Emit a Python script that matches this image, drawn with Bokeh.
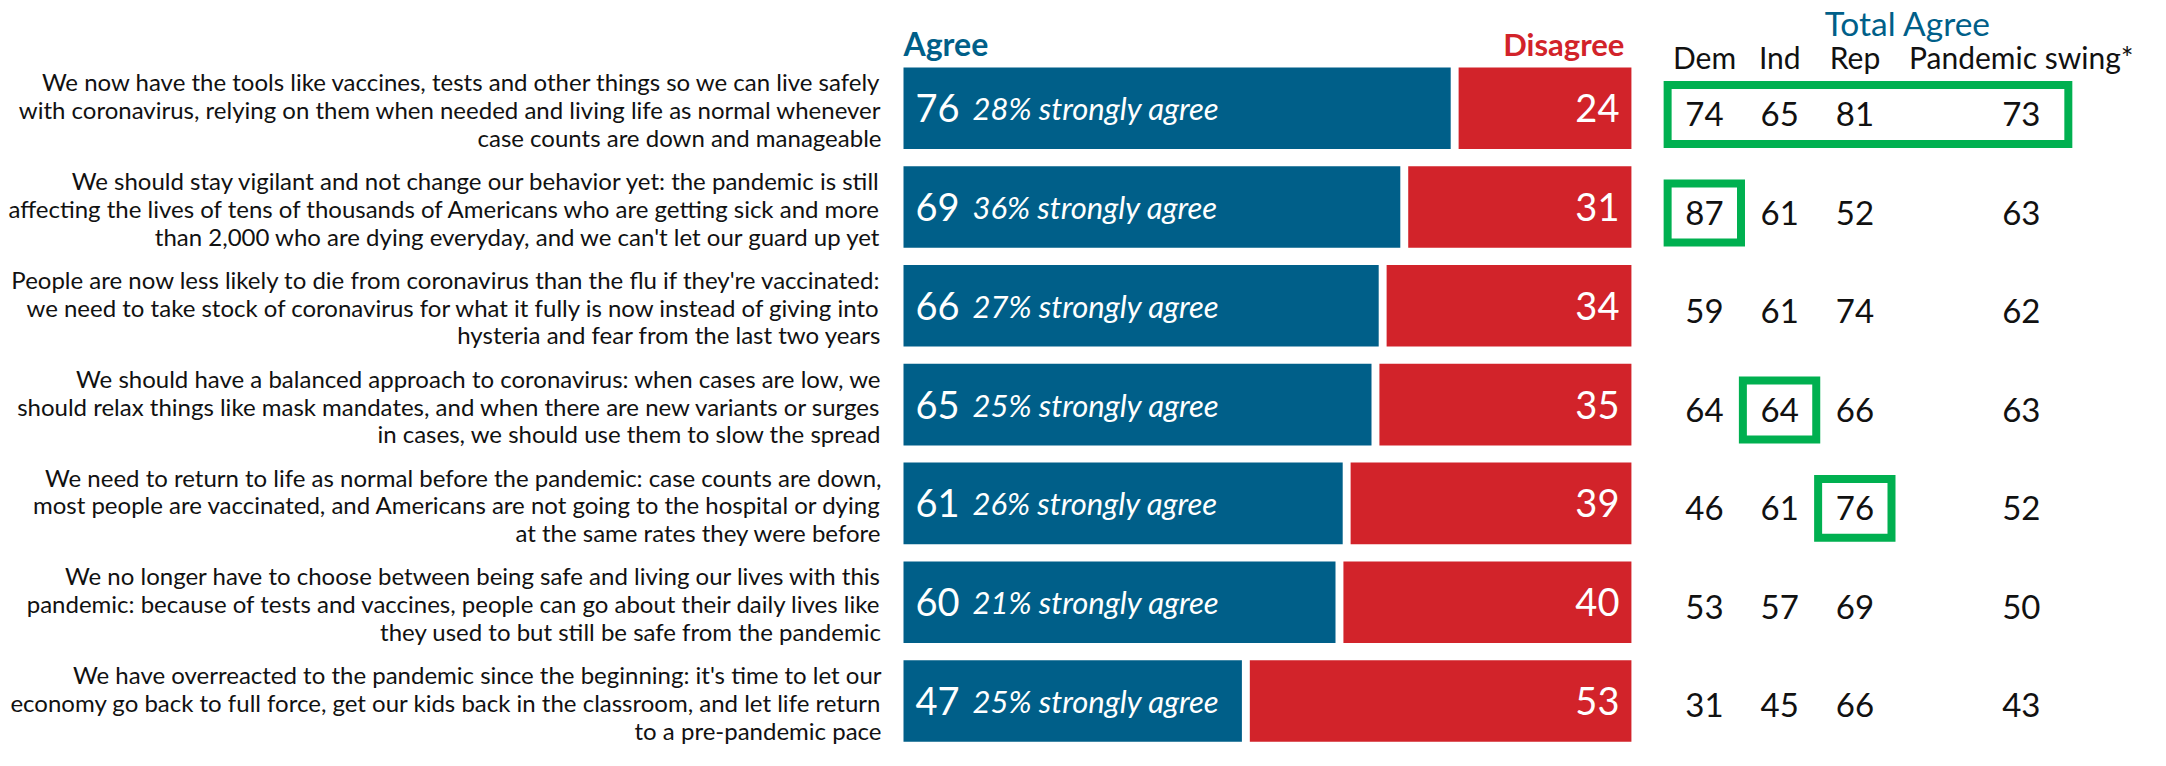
from bokeh.plotting import figure
from bokeh.models import Range1d, ColumnDataSource, Label
from bokeh.layouts import row
from bokeh.embed import file_html
from bokeh.resources import INLINE
from bokeh.core.properties import value

# ---------------- data ----------------
statements = [
    "We now have the tools like vaccines, tests and other things so we can live safely\n"
    "with coronavirus, relying on them when needed and living life as normal whenever\n"
    "case counts are down and manageable",
    "We should stay vigilant and not change our behavior yet: the pandemic is still\n"
    "affecting the lives of tens of thousands of Americans who are getting sick and more\n"
    "than 2,000 who are dying everyday, and we can't let our guard up yet",
    "People are now less likely to die from coronavirus than the flu if they're vaccinated:\n"
    "we need to take stock of coronavirus for what it fully is now instead of giving into\n"
    "hysteria and fear from the last two years",
    "We should have a balanced approach to coronavirus: when cases are low, we\n"
    "should relax things like mask mandates, and when there are new variants or surges\n"
    "in cases, we should use them to slow the spread",
    "We need to return to life as normal before the pandemic: case counts are down,\n"
    "most people are vaccinated, and Americans are not going to the hospital or dying\n"
    "at the same rates they were before",
    "We no longer have to choose between being safe and living our lives with this\n"
    "pandemic: because of tests and vaccines, people can go about their daily lives like\n"
    "they used to but still be safe from the pandemic",
    "We have overreacted to the pandemic since the beginning: it's time to let our\n"
    "economy go back to full force, get our kids back in the classroom, and let life return\n"
    "to a pre-pandemic pace",
]
agree = [76, 69, 66, 65, 61, 60, 47]
disagree = [24, 31, 34, 35, 39, 40, 53]
strongly_agree = [28, 36, 27, 25, 26, 21, 25]

columns = ["Dem", "Ind", "Rep", "Pandemic swing*"]
column_groups = ["party", "party", "party", "swing"]
dem = [74, 87, 59, 64, 46, 53, 31]
ind = [65, 61, 61, 64, 61, 57, 45]
rep = [81, 52, 74, 66, 76, 69, 66]
swing = [73, 63, 62, 63, 52, 50, 43]

# highlighted cells: row, first column, last column
highlight_rows = [0, 1, 3, 4]
highlight_first = ["Dem", "Dem", "Ind", "Rep"]
highlight_last = ["Pandemic swing*", "Dem", "Ind", "Rep"]

# ---------------- style ----------------
BLUE = "#005F89"
RED = "#D2232A"
GREEN = "#00B050"
FONT = "Lato"
INK = "#111111"

rows_idx = list(range(len(statements)))

# ---------------- figure A : statements + bars ----------------
PX = 7.2      # pixels per percentage point
GAP = 1.1     # gap between agree / disagree bars (percentage units)
pA = figure(width=1637, height=750,
            x_range=Range1d(-903 / PX, 734 / PX),
            y_range=Range1d(6.5010, -1.0901),
            output_backend="svg", toolbar_location=None,
            x_axis_location=None, y_axis_location=None,
            min_border=0, outline_line_color=None)
pA.xgrid.grid_line_color = None
pA.ygrid.grid_line_color = None

src = ColumnDataSource(dict(
    y=rows_idx,
    agree=agree,
    dis_left=[a + GAP for a in agree],
    dis_right=[a + d + GAP for a, d in zip(agree, disagree)],
    agree_txt=[str(a) for a in agree],
    dis_txt=[str(d) for d in disagree],
    strong_txt=[f"{s}% strongly agree" for s in strongly_agree],
))

BAR_H = 0.826
pA.hbar(y="y", left=0, right="agree", height=BAR_H, source=src,
        fill_color=BLUE, line_color=None)
pA.hbar(y="y", left="dis_left", right="dis_right", height=BAR_H, source=src,
        fill_color=RED, line_color=None)

pA.text(x=0, y="y", text="agree_txt", source=src, x_offset=12,
        text_align="left", text_baseline="middle", text_color="white",
        text_font=value(FONT), text_font_size="38px")
pA.text(x=0, y="y", text="strong_txt", source=src, x_offset=69,
        text_align="left", text_baseline="middle", text_color="white",
        text_font=value(FONT), text_font_size="31px", text_font_style="italic")
pA.text(x="dis_right", y="y", text="dis_txt", source=src, x_offset=-12,
        text_align="right", text_baseline="middle", text_color="white",
        text_font=value(FONT), text_font_size="38px")

# statement labels, split into their lines
line_offsets = [-26.4, 1.5, 29.0]
for k, off in enumerate(line_offsets):
    lines = [s.split("\n")[k] for s in statements]
    pA.text(x=[0] * len(lines), y=rows_idx, text=lines, x_offset=-22, y_offset=off,
            text_align="right", text_baseline="alphabetic", text_color=INK,
            text_font=value(FONT), text_font_size="24px")

pA.add_layout(Label(x=0, y=-0.6518, text="Agree", text_color=BLUE,
                    text_font=FONT, text_font_size="32px", text_font_style="bold",
                    text_align="left", text_baseline="alphabetic"))
pA.add_layout(Label(x=100 + GAP, y=-0.6518, x_offset=-7, text="Disagree", text_color=RED,
                    text_font=FONT, text_font_size="31px", text_font_style="bold",
                    text_align="right", text_baseline="alphabetic"))

# ---------------- figure B : Total Agree table ----------------
GROUP_GAP = 1.21   # extra spacing between column groups (column units)
CPX = 75.25        # pixels per column unit
group_order = list(dict.fromkeys(column_groups))
col_pos = {c: i + GROUP_GAP * group_order.index(g)
           for i, (c, g) in enumerate(zip(columns, column_groups))}

pB = figure(width=513, height=750,
            x_range=Range1d(-67 / CPX, 446 / CPX),
            y_range=Range1d(6.4588, -1.1577),
            output_backend="svg", toolbar_location=None,
            x_axis_location=None, y_axis_location=None,
            min_border=0, outline_line_color=None)
pB.xgrid.grid_line_color = None
pB.ygrid.grid_line_color = None

table_vals = [dem, ind, rep, swing]
tx, ty, tt = [], [], []
for col, vals in zip(columns, table_vals):
    for r, v in zip(rows_idx, vals):
        tx.append(col_pos[col])
        ty.append(r)
        tt.append(str(v))
pB.text(x=tx, y=ty, text=tt, text_align="center", text_baseline="middle",
        text_color=INK, text_font=value(FONT), text_font_size="33px")

PAD_L = 0.49
PAD_R_SINGLE = 0.485
PAD_R_WIDE = 0.625
BOX_HALF = 0.2995
box_src = ColumnDataSource(dict(
    left=[col_pos[f] - PAD_L for f in highlight_first],
    right=[col_pos[l] + (PAD_R_WIDE if l != f else PAD_R_SINGLE)
           for f, l in zip(highlight_first, highlight_last)],
    top=[r - BOX_HALF for r in highlight_rows],
    bottom=[r + BOX_HALF for r in highlight_rows],
))
pB.quad(left="left", right="right", top="top", bottom="bottom", source=box_src,
        fill_color=None, line_color=GREEN, line_width=8, line_join="miter")

pB.text(x=[col_pos[c] for c in columns], y=[-0.5789] * len(columns), text=columns,
        text_align="center", text_baseline="alphabetic", text_color=INK,
        text_font=value(FONT), text_font_size="30px")
pB.text(x=[(col_pos[columns[0]] + col_pos[columns[-1]]) / 2], y=[-0.9284],
        text=["Total Agree"], x_offset=45,
        text_align="center", text_baseline="alphabetic", text_color=BLUE,
        text_font=value(FONT), text_font_size="33.5px")

layout = row(pA, pB)
open("out.html", "w").write(file_html(layout, INLINE))
